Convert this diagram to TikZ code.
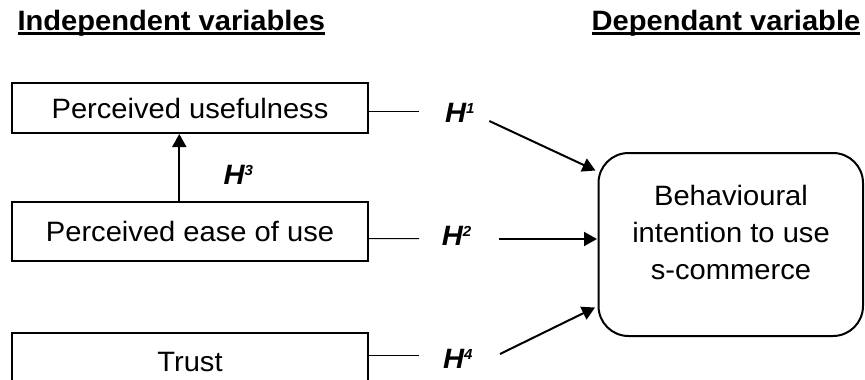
\documentclass[tikz,border=0pt]{standalone}
\usepackage{fontspec}
\setmainfont{Liberation Sans}[FakeStretch=1.04]
\usetikzlibrary{arrows.meta}
\newcommand\hdrul[1]{\setbox0\hbox{#1}\rlap{\rule[-4.2pt]{\wd0}{2.5pt}}\box0}
\newcommand\hyp[1]{\textbf{\textit{H\raisebox{9pt}{\fontsize{14.5}{14.5}\selectfont #1}}}}
\begin{document}
\begin{tikzpicture}[x=1pt,y=-1pt,
  every node/.style={inner sep=0pt, font=\fontsize{28}{37}\selectfont},
  hdr/.style={anchor=base west, font=\fontsize{28}{30}\selectfont\bfseries},
  varbox/.style={draw, line width=2pt, minimum width=356pt},
  outbox/.style={draw, line width=2pt, rounded corners=30pt, minimum width=264.5pt, minimum height=183pt},
  hlab/.style={anchor=base west},
  hline/.style={line width=1pt},
  arr/.style={line width=2pt, -{Triangle[length=13pt,width=14pt]}}]
\useasboundingbox (0,0) rectangle (865,380);
% headers
\node[hdr] (hi) at (17.3,30.7) {\hdrul{Independent variables}};
\node[hdr] (hd) at (591.5,30.7) {\hdrul{Dependant variable}};
% variable boxes
\node[varbox, minimum height=50pt] (b1) at (190,108) {Perceived usefulness};
\node[varbox, minimum height=59pt] (b2) at (190,231.6) {Perceived ease of use};
\node[varbox, minimum height=59pt] (b3) at (190,362.5) {Trust};
% outcome box
\node[outbox] (bi) at (730.75,244.5) {};
\node[align=center] (bt) at (731,232) {Behavioural\\intention to use\\s-commerce};
% hypothesis labels
\node[hlab] (h1) at (445,122.7) {\hyp{1}};
\node[hlab] (h2) at (441.7,245.7) {\hyp{2}};
\node[hlab] (h3) at (223.3,184) {\hyp{3}};
\node[hlab] (h4) at (443,368) {\hyp{4}};
% short lines
\coordinate (l1) at (419,111.7);
\coordinate (l2) at (419,238.5);
\coordinate (l4) at (419,355);
\draw[hline] ([yshift=-3.7pt]b1.east) -- (l1);
\draw[hline] ([yshift=-7pt]b2.east) -- (l2);
\draw[hline] ([yshift=7.5pt]b3.east) -- (l4);
% arrows
\coordinate (a1) at (489.3,121);
\coordinate (a2) at (499.3,239);
\coordinate (a4) at (500,354);
\draw[arr] (a1) -- ([xshift=-2pt,yshift=74pt]bi.west);
\draw[arr] (a2) -- ([xshift=-0.5pt,yshift=5.5pt]bi.west);
\draw[arr] (a4) -- ([xshift=-2.5pt,yshift=-63pt]bi.west);
\draw[arr] ([xshift=-10.7pt]b2.north) -- ([xshift=-10.7pt]b1.south);
\end{tikzpicture}
\end{document}
